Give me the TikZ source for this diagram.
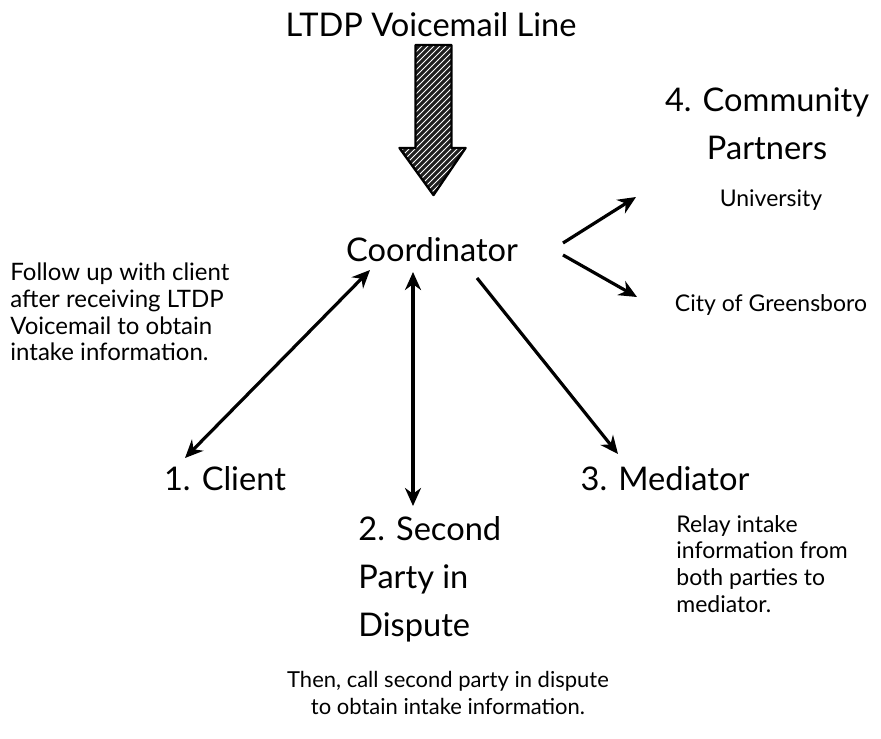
\documentclass[tikz,border=0pt]{standalone}
\usepackage{fontspec}
\setmainfont{Lato}
\usetikzlibrary{arrows.meta,patterns,calc}
\begin{document}
\begin{tikzpicture}[x=0.5pt,y=-0.5pt,
  big/.style={font=\fontsize{16.3}{24}\selectfont, inner sep=0pt, align=center},
  small/.style={font=\fontsize{11.5}{13.3}\selectfont, inner sep=0pt},
  conn/.style={line width=1.6pt, -{Stealth[length=9pt,width=8pt]}},
  conntwo/.style={line width=1.6pt, {Stealth[length=9pt,width=8pt]}-{Stealth[length=9pt,width=8pt]}}]
\useasboundingbox (0,0) rectangle (881,738);
% labels
\node[big] (title) at (431,25) {LTDP Voicemail Line};
\node[big] (coord) at (432,250) {Coordinator};
\node[big] (partners) at (767,124) {4. Community\\Partners};
\node[small] (univ) at (771,200) {University};
\node[small] (city) at (771,305) {City of Greensboro};
\node[small, align=left, anchor=west, font=\fontsize{12}{13.4}\selectfont] (follow) at (10,312) {Follow up with client\\after receiving LTDP\\Voicemail to obtain\\intake information.};
\node[big] (client) at (225,479) {1. Client};
\node[big, align=left, anchor=north west] (second) at (358,516) {2. Second\\Party in\\Dispute};
\node[big] (mediator) at (665,479) {3. Mediator};
\node[small, align=left, anchor=north west] (relay) at (676,515) {Relay intake\\information from\\both parties to\\mediator.};
\node[small, align=center, font=\fontsize{11}{13.5}\selectfont] (then) at (448,693) {Then, call second party in dispute\\to obtain intake information.};
% big hatched arrow from title to coordinator
\coordinate (ha) at (433.5,45);
\coordinate (hb) at (433.5,195);
\def\bigarrow{($(ha)+(-18,0)$) -- ($(ha)+(18,0)$) -- ($(ha)+(18,103)$) -- ($(ha)+(32,103)$) -- (hb) -- ($(ha)+(-34,103)$) -- ($(ha)+(-18,103)$) -- cycle}
\fill[black!88] \bigarrow;
\fill[pattern=north east lines, pattern color=white] \bigarrow;
\draw[line width=1.2pt, line join=round] \bigarrow;
% connectors
\coordinate (cA) at (370,270);
\coordinate (kA) at (185,458);
\draw[conntwo] (cA) -- (kA);
\coordinate (cB) at (413,272);
\coordinate (kB) at (413,506);
\draw[conntwo] (cB) -- (kB);
\coordinate (cC) at (477,278);
\coordinate (kC) at (618,454);
\draw[conn] (cC) -- (kC);
\coordinate (cD) at (563,243);
\coordinate (kD) at (636,197);
\draw[conn] (cD) -- (kD);
\coordinate (cE) at (563,255);
\coordinate (kE) at (637,297);
\draw[conn] (cE) -- (kE);
\end{tikzpicture}
\end{document}
